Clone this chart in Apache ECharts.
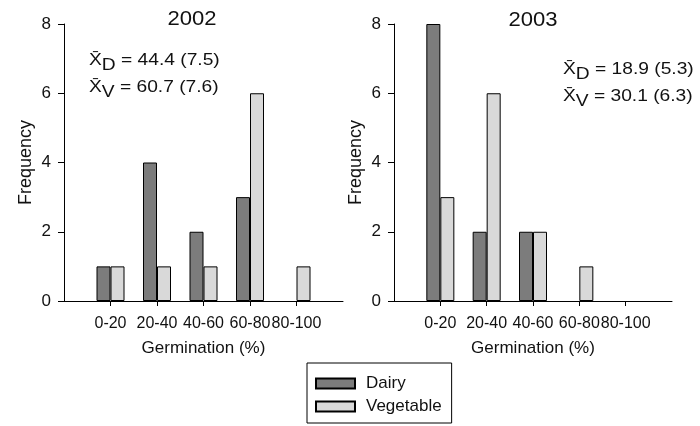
<!DOCTYPE html>
<html>
<head>
<meta charset="utf-8">
<script src="https://cdn.jsdelivr.net/npm/echarts@6/dist/echarts.min.js"></script>
<style>html,body{margin:0;padding:0;background:#fff;}#c{width:700px;height:426px;}</style>
</head>
<body>
<div id="c"></div>
<script>
const years = ['2002', '2003'];
const categories = ['0-20', '20-40', '40-60', '60-80', '80-100'];
const dairy2002 = [1, 4, 2, 3, 0];
const veg2002 = [1, 1, 1, 6, 1];
const dairy2003 = [8, 2, 2, 0, 0];
const veg2003 = [3, 6, 2, 1, 0];
const yTicks = [0, 2, 4, 6, 8];
const means2002 = ['44.4 (7.5)', '60.7 (7.6)'];
const means2003 = ['18.9 (5.3)', '30.1 (6.3)'];
const seriesNames = ['Dairy', 'Vegetable'];
const xName = 'Germination (%)';
const yName = 'Frequency';

const FONT = '"Liberation Sans", Arial, Helvetica, sans-serif';
const TXT = '#111';
const cats = [''].concat(categories, ['']);
// zero counts draw no visible bar
const pad = arr => ['-'].concat(arr.map(v => (v === 0 ? '-' : v)), ['-']);

function xAxisFor(gi) {
  return {
    type: 'category', gridIndex: gi, boundaryGap: false, data: cats,
    axisLine: { show: true, lineStyle: { color: '#000', width: 1 } },
    axisTick: { show: true, length: 5, interval: (i, v) => v !== '', lineStyle: { color: '#000' } },
    axisLabel: { interval: 0, fontSize: 16, color: TXT, margin: 15, fontFamily: FONT },
    splitLine: { show: false },
    name: xName, nameLocation: 'middle', nameGap: 39,
    nameTextStyle: { fontSize: 17, color: TXT, fontFamily: FONT }
  };
}
function yAxisFor(gi) {
  return {
    type: 'value', gridIndex: gi, min: yTicks[0], max: yTicks[yTicks.length - 1],
    interval: yTicks[1] - yTicks[0],
    axisLine: { show: true, lineStyle: { color: '#000', width: 1 } },
    axisTick: { show: true, length: 6, lineStyle: { color: '#000' } },
    axisLabel: { fontSize: 17, color: TXT, margin: 13, fontFamily: FONT },
    splitLine: { show: false },
    name: yName, nameLocation: 'middle', nameGap: 29,
    nameTextStyle: { fontSize: 18, color: TXT, fontFamily: FONT }
  };
}
const colors = ['#7c7c7c', '#d9d9d9'];
function barSeries(name, data, gi, ci) {
  return {
    type: 'bar', name: name, xAxisIndex: gi, yAxisIndex: gi,
    data: pad(data), barWidth: 14, barGap: '0%',
    itemStyle: { color: colors[ci], borderColor: '#000', borderWidth: 1 },
    silent: true
  };
}
function annot(x, y, means) {
  const rich = {
    x: { fontSize: 16, lineHeight: 27, fontFamily: FONT, fill: TXT },
    s: { fontSize: 16, lineHeight: 19, verticalAlign: 'bottom', fontFamily: FONT, fill: TXT },
    t: { fontSize: 16, lineHeight: 27, fontFamily: FONT, fill: TXT }
  };
  return {
    type: 'text', x: x, y: y, scaleX: 1.2, silent: true,
    style: {
      text: '{x|X\u0304}{s|D}{t| = ' + means[0] + '}\n{x|X\u0304}{s|V}{t| = ' + means[1] + '}',
      rich: rich, fill: TXT, font: '16px ' + FONT
    }
  };
}

const chart = echarts.init(document.getElementById('c'), null, { renderer: 'canvas' });
chart.setOption({
  animation: false,
  textStyle: { fontFamily: FONT },
  grid: [
    { left: 64, top: 24, width: 279, height: 277 },
    { left: 394, top: 24, width: 278, height: 277 }
  ],
  xAxis: [xAxisFor(0), xAxisFor(1)],
  yAxis: [yAxisFor(0), yAxisFor(1)],
  legend: {
    data: seriesNames, orient: 'vertical', left: 307, top: 363,
    borderColor: '#000', borderWidth: 1, borderRadius: 0,
    padding: [12, 10, 8, 8], itemWidth: 39, itemHeight: 10, itemGap: 6,
    icon: 'rect', selectedMode: false,
    textStyle: { fontSize: 17, color: TXT, fontFamily: FONT, padding: [0, 0, 0, 6] }
  },
  series: [
    barSeries(seriesNames[0], dairy2002, 0, 0),
    barSeries(seriesNames[1], veg2002, 0, 1),
    barSeries(seriesNames[0], dairy2003, 1, 0),
    barSeries(seriesNames[1], veg2003, 1, 1)
  ],
  graphic: [
    { type: 'text', x: 192, y: 19, scaleX: 1.05, silent: true,
      style: { text: years[0], font: '21px ' + FONT, fill: TXT, textAlign: 'center', textVerticalAlign: 'middle' } },
    { type: 'text', x: 533, y: 20, scaleX: 1.05, silent: true,
      style: { text: years[1], font: '21px ' + FONT, fill: TXT, textAlign: 'center', textVerticalAlign: 'middle' } },
    annot(89, 47, means2002),
    annot(563, 56, means2003)
  ]
});
</script>
</body>
</html>
